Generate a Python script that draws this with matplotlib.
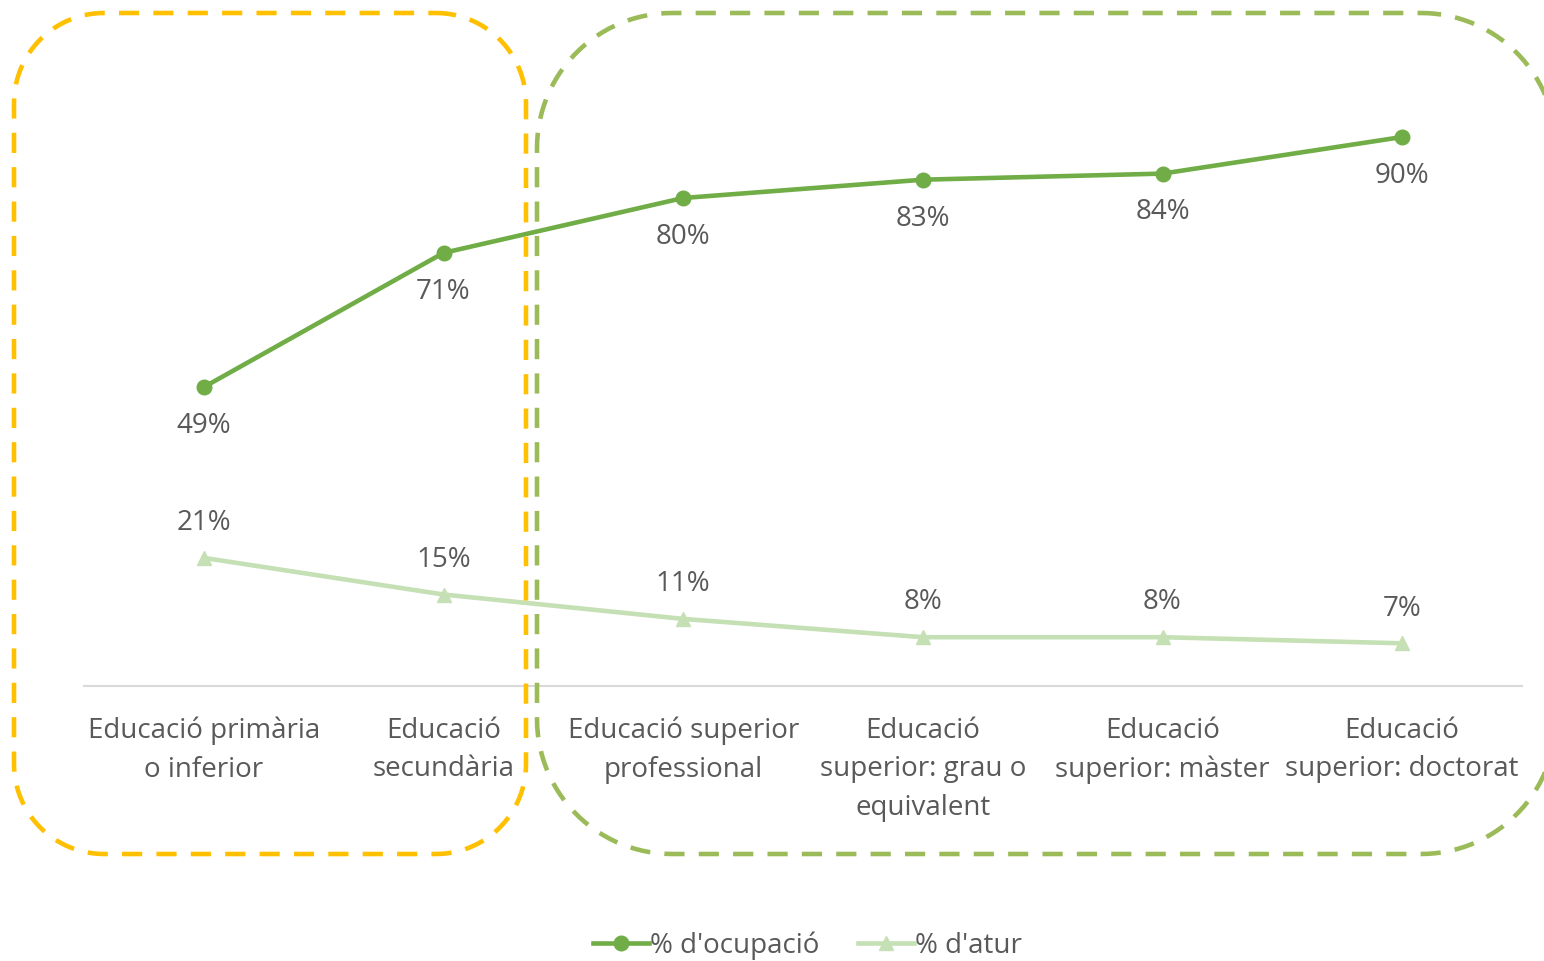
import numpy as np
import matplotlib.pyplot as plt

plt.rcParams['font.family'] = ['Open Sans', 'DejaVu Sans']

nivells = [
    "Educació primària\no inferior",
    "Educació\nsecundària",
    "Educació superior\nprofessional",
    "Educació\nsuperior: grau o\nequivalent",
    "Educació\nsuperior: màster",
    "Educació\nsuperior: doctorat",
]
ocupacio = [49, 71, 80, 83, 84, 90]
atur = [21, 15, 11, 8, 8, 7]

text_color = '#595959'
verd_fosc = '#70AD47'
verd_clar = '#C5E0B4'
fs = 20


def caixa_arrodonida(x0, y0, x1, y1, r, n=30):
    # contorn d'un rectangle amb cantonades circulars (coordenades en píxels, y cap avall)
    xs, ys = [], []
    cantonades = [
        (x1 - r, y0 + r, -90, 0),
        (x1 - r, y1 - r, 0, 90),
        (x0 + r, y1 - r, 90, 180),
        (x0 + r, y0 + r, 180, 270),
    ]
    for cx, cy, a0, a1 in cantonades:
        t = np.radians(np.linspace(a0, a1, n))
        xs.extend(cx + r * np.cos(t))
        ys.extend(cy + r * np.sin(t))
    xs.append(xs[0])
    ys.append(ys[0])
    return xs, ys


fig = plt.figure(figsize=(15.44, 9.61), dpi=100)
ax = fig.add_axes([84 / 1544, 1 - 686 / 961, 1438 / 1544, 610 / 961])

x = list(range(len(nivells)))
ax.plot(x, ocupacio, color=verd_fosc, lw=3.3, marker='o', ms=10.5, label="% d'ocupació", zorder=3)
ax.plot(x, atur, color=verd_clar, lw=3.3, marker='^', ms=10.5, label="% d'atur", zorder=3)

for xi, v in zip(x, ocupacio):
    ax.annotate(f"{v}%", (xi, v), xytext=(0, -28), textcoords='offset points',
                ha='center', va='center', fontsize=fs, color=text_color)
for xi, v in zip(x, atur):
    ax.annotate(f"{v}%", (xi, v), xytext=(0, 25), textcoords='offset points',
                ha='center', va='center', fontsize=fs, color=text_color)

ax.set_xlim(-0.5, len(nivells) - 0.5)
ax.set_ylim(0, 100)
ax.set_xticks(x)
ax.set_xticklabels(nivells, fontsize=fs, color=text_color, linespacing=1.5)
ax.tick_params(axis='x', length=0, pad=22)
ax.set_yticks([])
for s in ['top', 'left', 'right']:
    ax.spines[s].set_visible(False)
ax.spines['bottom'].set_color('#D9D9D9')
ax.spines['bottom'].set_linewidth(1.5)

leg = fig.legend(loc='center', bbox_to_anchor=(0.523, 0.016), ncol=2, frameon=False,
                 fontsize=fs, handlelength=2.0, columnspacing=1.4, handletextpad=0.05)
for t in leg.get_texts():
    t.set_color(text_color)

# caixes discontínues per sobre del gràfic
over = fig.add_axes([0, 0, 1, 1], zorder=5)
over.set_xlim(0, 1544)
over.set_ylim(961, 0)
over.axis('off')
over.patch.set_alpha(0)

gx, gy = caixa_arrodonida(14, 13, 526, 854, 90)
over.plot(gx, gy, color='#FFC000', lw=3.3, linestyle=(0, (4.4, 3.1)))
vx, vy = caixa_arrodonida(537, 13, 1556, 854, 135)
over.plot(vx, vy, color='#9BBB59', lw=3.3, linestyle=(0, (4.4, 3.1)))

fig.savefig('out.png', dpi=100)
